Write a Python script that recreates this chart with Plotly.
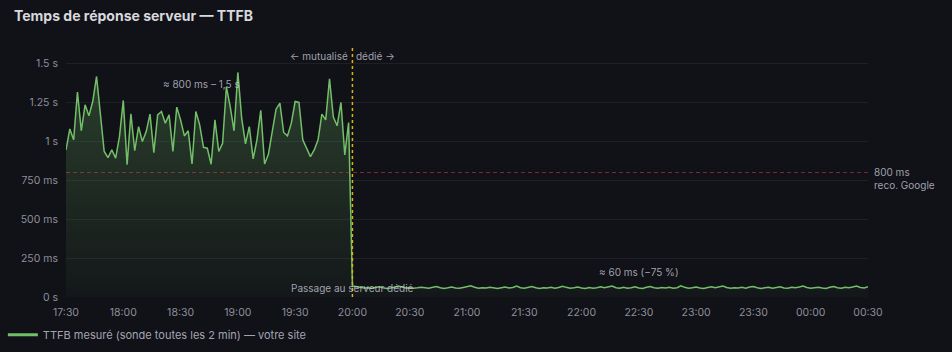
import plotly.graph_objects as go
import pandas as pd

# --- Data (ms), one probe every 2 minutes from 17:30 to 00:30 ---
start_time = "2024-01-01 17:30"
step_minutes = 2
switch_time = "2024-01-01 20:00"

shared_ms = [
    945, 1080, 1010, 1317, 1068, 1235, 1164, 1256, 1417, 1170,
    935, 896, 945, 892, 1031, 1263, 850, 1177, 940, 1095,
    999, 1063, 1175, 928, 1170, 1192, 1117, 1170, 935, 1220,
    1138, 1035, 1068, 855, 1192, 1106, 962, 956, 853, 1138,
    935, 988, 1349, 1224, 1068, 1443, 1149, 984, 1095, 887,
    1010, 1199, 855, 917, 1063, 1207, 1246, 1057, 1035, 1117,
    1256, 1250, 1010, 956, 902, 945, 1010, 1175, 1138, 1402,
    1156, 1100, 1250, 913, 1121,
]
dedicated_ms = [
    70,
    68, 62, 58, 60, 57, 63, 66, 60, 55, 58, 62, 71, 64, 58, 60,
    56, 59, 63, 60, 57, 62, 68, 60, 55, 59, 64, 58, 56, 61, 66,
    72, 63, 57, 60, 58, 62, 57, 55, 60, 64, 58, 61, 70, 60, 56,
    62, 67, 59, 55, 60, 58, 63, 57, 61, 69, 62, 56, 59, 64, 58,
    55, 61, 57, 60, 66, 59, 63, 71, 60, 57, 62, 56, 60, 65, 58,
    55, 62, 67, 60, 56, 61, 58, 63, 57, 60, 72, 62, 57, 60, 64,
    58, 55, 61, 66, 59, 63, 70, 61, 56, 60, 58, 62, 57, 64, 68,
    60, 55, 59, 63, 57, 61, 66, 58, 56, 62, 59, 64, 70, 61, 57,
    60, 63, 58, 55, 62, 68, 60, 57, 63, 59, 64, 70, 61, 58, 66,
]
ttfb_ms = shared_ms + dedicated_ms
times = pd.date_range(start_time, periods=len(ttfb_ms), freq=f"{step_minutes}min")

threshold_ms = 800
y_tickvals = [0, 250, 500, 750, 1000, 1250, 1500]
y_ticktext = ["0 s", "250 ms", "500 ms", "750 ms", "1 s", "1.25 s", "1.5 s"]
series_name = "TTFB mesuré (sonde toutes les 2 min) — votre site"

GREEN = "#73BF69"
BG = "#111217"
TXT = "rgba(204,204,220,0.68)"
FONT = "Inter"

fig = go.Figure()
# area fill under the series
fig.add_trace(go.Scatter(
    x=times, y=ttfb_ms, mode="lines", line=dict(width=0, color=GREEN),
    fill="tozeroy", showlegend=False, hoverinfo="skip",
    fillgradient=dict(type="vertical",
                      colorscale=[[0, "rgba(115,191,105,0.03)"], [1, "rgba(115,191,105,0.26)"]]),
))
# the series line
fig.add_trace(go.Scatter(
    x=times, y=ttfb_ms, mode="lines", name=series_name, showlegend=False,
    line=dict(color=GREEN, width=1.5),
))
# legend entry (thicker swatch)
fig.add_trace(go.Scatter(
    x=[None], y=[None], mode="lines", name=series_name,
    line=dict(color=GREEN, width=3),
))

# threshold line
fig.add_shape(type="line", xref="paper", x0=0, x1=1, yref="y", y0=threshold_ms, y1=threshold_ms,
              line=dict(color="rgba(242,73,92,0.45)", width=1, dash="4px,3px"))
# switch line
fig.add_shape(type="line", xref="x", x0=switch_time, x1=switch_time, yref="paper", y0=0, y1=1,
              line=dict(color="#E0B400", width=1.5, dash="3px,3px"))

ann_font = dict(family=FONT, size=10, color="rgba(204,204,220,0.78)")
fig.add_annotation(x=switch_time, y=1, xref="x", yref="paper", text="← mutualisé",
                   xanchor="right", yanchor="top", xshift=-2, showarrow=False, font=ann_font)
fig.add_annotation(x=switch_time, y=1, xref="x", yref="paper", text="dédié →",
                   xanchor="left", yanchor="top", xshift=2, showarrow=False, font=ann_font)
fig.add_annotation(x="2024-01-01 18:41", y=1370, xref="x", yref="y", text="≈ 800 ms – 1,5 s",
                   showarrow=False, font=ann_font)
fig.add_annotation(x="2024-01-01 22:30", y=160, xref="x", yref="y", text="≈ 60 ms (−75 %)",
                   showarrow=False, font=ann_font)
fig.add_annotation(x=switch_time, y=0, xref="x", yref="paper", text="Passage au serveur dédié",
                   yanchor="bottom", yshift=1, showarrow=False, font=ann_font)
fig.add_annotation(x=1, y=760, xref="paper", yref="y", text="800 ms<br>reco. Google",
                   xanchor="left", xshift=4, align="left", showarrow=False, font=ann_font)

fig.update_layout(
    width=952, height=352,
    paper_bgcolor=BG, plot_bgcolor=BG,
    margin=dict(l=66, r=84, t=48, b=55, autoexpand=False),
    font=dict(family=FONT, size=10, color=TXT),
    title=dict(text="<b>Temps de réponse serveur — TTFB</b>", x=0, xref="container", xanchor="left",
               y=1, yref="container", yanchor="top", pad=dict(l=14, t=11),
               font=dict(family=FONT, size=14, color="#D8D9DE")),
    showlegend=True,
    legend=dict(orientation="h", xref="container", yref="container", x=0.003, y=0.008,
                xanchor="left", yanchor="bottom",
                font=dict(family=FONT, size=11, color="rgba(204,204,220,0.8)"),
                bgcolor="rgba(0,0,0,0)"),
    xaxis=dict(type="date", range=[times[0], times[-1]], tickformat="%H:%M", dtick=30 * 60 * 1000,
               tick0=start_time, showgrid=False, zeroline=False, showline=False, ticks="",
               automargin=False,
               ticklabelstandoff=7, tickfont=dict(family=FONT, size=10.5, color=TXT)),
    yaxis=dict(range=[0, 1600], tickvals=y_tickvals, ticktext=y_ticktext, showgrid=True,
               gridcolor="rgba(204,204,220,0.08)", gridwidth=1, zeroline=False, showline=False,
               automargin=False,
               ticks="", ticklabelstandoff=7, tickfont=dict(family=FONT, size=10.5, color=TXT)),
)

fig.write_html("out.html")
